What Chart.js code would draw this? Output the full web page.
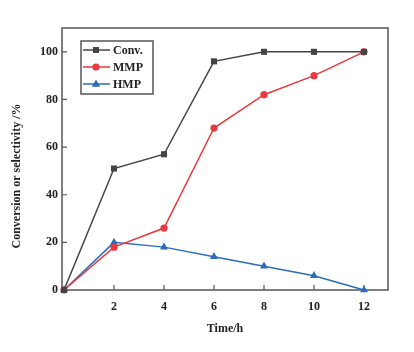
<!DOCTYPE html>
<html>
<head>
<meta charset="utf-8">
<script src="https://cdn.jsdelivr.net/npm/chart.js@4.4.0/dist/chart.umd.min.js"></script>
<style>
  html, body { margin: 0; padding: 0; background: #fff; }
  canvas { display: block; }
</style>
</head>
<body>
<canvas id="chart" width="414" height="352"></canvas>
<script>
// Data
const hours = [0, 2, 4, 6, 8, 10, 12];
const conversion = [0, 51, 57, 96, 100, 100, 100];
const mmpSelectivity = [0, 18, 26, 68, 82, 90, 100];
const hmpSelectivity = [0, 20, 18, 14, 10, 6, 0];
const xTicks = [2, 4, 6, 8, 10, 12];
const yTicks = [0, 20, 40, 60, 80, 100];
const yTitle = 'Conversion or selectivity /%';

const FONT = 'Liberation Serif, Times New Roman, serif';
const FRAME = '#555';

function toPoints(values) {
    return hours.map((h, i) => ({ x: h, y: values[i] }));
}

// Frame, inward ticks, y title and the boxed legend
const framePlugin = {
    id: 'frame',
    beforeDatasetsDraw(chart) {
        const { ctx, chartArea: a, scales } = chart;
        ctx.save();
        ctx.strokeStyle = FRAME;
        ctx.lineWidth = 1.5;
        ctx.strokeRect(a.left, a.top, a.right - a.left, a.bottom - a.top);
        ctx.lineWidth = 1.2;
        ctx.beginPath();
        xTicks.forEach(v => {
            const px = scales.x.getPixelForValue(v);
            ctx.moveTo(px, a.bottom);
            ctx.lineTo(px, a.bottom - 5);
        });
        yTicks.forEach(v => {
            const py = scales.y.getPixelForValue(v);
            ctx.moveTo(a.left, py);
            ctx.lineTo(a.left + 5, py);
        });
        ctx.stroke();

        // y axis title, sits a bit below the middle like the original
        ctx.translate(17, 176);
        ctx.rotate(-Math.PI / 2);
        ctx.fillStyle = '#222';
        ctx.font = 'bold 12px ' + FONT;
        ctx.textAlign = 'center';
        ctx.textBaseline = 'middle';
        ctx.fillText(yTitle, 0, 0);
        ctx.restore();
    },
    afterDraw(chart) {
        const { ctx } = chart;
        ctx.save();
        ctx.strokeStyle = FRAME;
        ctx.lineWidth = 1.5;
        ctx.strokeRect(81, 41, 72, 53);
        chart.data.datasets.forEach((ds, i) => {
            const y = 50 + i * 17;
            ctx.strokeStyle = ds.borderColor;
            ctx.lineWidth = 1.5;
            ctx.beginPath();
            ctx.moveTo(83, y);
            ctx.lineTo(110, y);
            ctx.stroke();
            ctx.fillStyle = ds.pointBackgroundColor;
            ctx.beginPath();
            if (ds.pointStyle === 'rect') {
                ctx.rect(93, y - 3, 6, 6);
            } else if (ds.pointStyle === 'circle') {
                ctx.arc(96, y, 3.6, 0, Math.PI * 2);
            } else {
                ctx.moveTo(96, y - 4.5);
                ctx.lineTo(100.2, y + 2.8);
                ctx.lineTo(91.8, y + 2.8);
                ctx.closePath();
            }
            ctx.fill();
            ctx.fillStyle = '#222';
            ctx.font = 'bold 12px ' + FONT;
            ctx.textBaseline = 'middle';
            ctx.fillText(ds.label, 113, y + 0.5);
        });
        ctx.restore();
    }
};

new Chart(document.getElementById('chart'), {
    type: 'line',
    data: {
        datasets: [
            {
                label: 'Conv.',
                data: toPoints(conversion),
                borderColor: '#444',
                backgroundColor: '#444',
                pointBackgroundColor: '#444',
                pointStyle: 'rect',
                pointRadius: 4.3
            },
            {
                label: 'MMP',
                data: toPoints(mmpSelectivity),
                borderColor: '#e8393f',
                backgroundColor: '#e8393f',
                pointBackgroundColor: '#e8393f',
                pointStyle: 'circle',
                pointRadius: 3.6
            },
            {
                label: 'HMP',
                data: toPoints(hmpSelectivity),
                borderColor: '#2c6dbb',
                backgroundColor: '#2c6dbb',
                pointBackgroundColor: '#2c6dbb',
                pointStyle: 'triangle',
                pointRadius: 4.6
            }
        ]
    },
    options: {
        responsive: false,
        devicePixelRatio: 1,
        animation: false,
        layout: { padding: { top: 28, right: 26, left: 0, bottom: 0 } },
        elements: {
            line: { borderWidth: 1.5, tension: 0 },
            point: { borderWidth: 0, hoverRadius: 4 }
        },
        datasets: { line: { clip: false } },
        plugins: {
            legend: { display: false },
            tooltip: { enabled: false }
        },
        scales: {
            x: {
                type: 'linear',
                min: -0.08,
                max: 12.96,
                grid: { display: false, drawTicks: false },
                border: { display: false },
                afterBuildTicks: s => { s.ticks = xTicks.map(v => ({ value: v })); },
                afterFit: s => { s.height = 62; },
                ticks: {
                    padding: 10,
                    color: '#222',
                    font: { family: FONT, size: 12, weight: 'bold' }
                },
                title: {
                    display: true,
                    text: 'Time/h',
                    color: '#222',
                    padding: { top: 0, bottom: 16 },
                    font: { family: FONT, size: 12, weight: 'bold' }
                }
            },
            y: {
                min: 0,
                max: 110,
                grid: { display: false, drawTicks: false },
                border: { display: false },
                afterBuildTicks: s => { s.ticks = yTicks.map(v => ({ value: v })); },
                afterFit: s => { s.width = 62; },
                ticks: {
                    padding: 4,
                    color: '#222',
                    font: { family: FONT, size: 12, weight: 'bold' }
                }
            }
        }
    },
    plugins: [framePlugin]
});
</script>
</body>
</html>
